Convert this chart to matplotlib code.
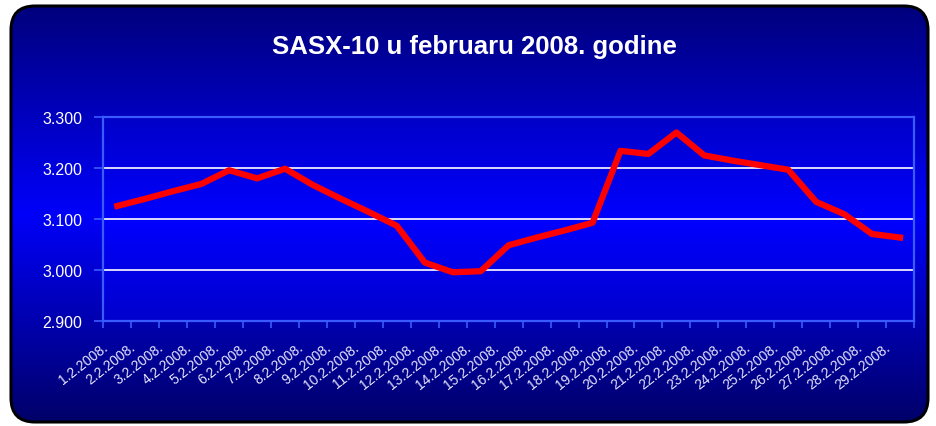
import numpy as np
import matplotlib.pyplot as plt
import matplotlib.transforms as mtransforms
from matplotlib.patches import FancyBboxPatch
from matplotlib.ticker import FuncFormatter

plt.rcParams['font.family'] = ['Liberation Sans', 'DejaVu Sans']

# Podaci
datumi = ['1.2.2008.', '2.2.2008.', '3.2.2008.', '4.2.2008.', '5.2.2008.',
          '6.2.2008.', '7.2.2008.', '8.2.2008.', '9.2.2008.', '10.2.2008.',
          '11.2.2008.', '12.2.2008.', '13.2.2008.', '14.2.2008.', '15.2.2008.',
          '16.2.2008.', '17.2.2008.', '18.2.2008.', '19.2.2008.', '20.2.2008.',
          '21.2.2008.', '22.2.2008.', '23.2.2008.', '24.2.2008.', '25.2.2008.',
          '26.2.2008.', '27.2.2008.', '28.2.2008.', '29.2.2008.']
sasx10 = [3125, 3139, 3154, 3168, 3195, 3179, 3198, 3166, 3139, 3113,
          3086, 3014, 2995, 2997, 3048, 3063, 3077, 3092, 3233, 3227,
          3269, 3224, 3214, 3205, 3196, 3133, 3109, 3070, 3063]
y_ticks = [2900, 3000, 3100, 3200, 3300]


def gradient(dark_top, light, dark_bottom, n=256):
    # vertikalni gradijent: tamno - svijetlo - tamno
    s = np.linspace(0, 1, n)
    b = np.where(s < 0.5,
                 dark_top + (light - dark_top) * (s / 0.5),
                 light + (dark_bottom - light) * ((s - 0.5) / 0.5))
    rgb = np.zeros((n, 1, 3))
    rgb[:, 0, 2] = b / 255.0
    return rgb


fig = plt.figure(figsize=(9.36, 4.27), dpi=100)

# Pozadina sa zaobljenim okvirom
bg = fig.add_axes([0, 0, 1, 1])
bg.axis('off')
bg.set_xlim(0, 936)
bg.set_ylim(427, 0)
box = FancyBboxPatch((11, 7), 917, 416, boxstyle="round,pad=0,rounding_size=24",
                     fc='none', ec='black', lw=2.2, zorder=3)
bg.add_patch(box)
im = bg.imshow(gradient(125, 250, 105), extent=(11, 928, 423, 7),
               aspect='auto', zorder=1)
im.set_clip_path(box)

fig.text(474 / 936, 1 - 47 / 427, 'SASX-10 u februaru 2008. godine',
         ha='center', va='center', fontsize=18.5, weight='bold', color='white')

# Grafikon
ax = fig.add_axes([0.1104, 0.2466, 0.8661, 0.4778])
ax.set_facecolor('none')
ax.imshow(gradient(200, 255, 205), extent=(0, 1, 0, 1), transform=ax.transAxes,
          aspect='auto', zorder=0)

ax.plot(range(len(sasx10)), sasx10, color='#ff0000', lw=4.5, zorder=3)

ax.set_xlim(-0.5, len(datumi) - 0.5)
ax.set_ylim(2900, 3300)
ax.set_yticks(y_ticks)
ax.yaxis.set_major_formatter(FuncFormatter(lambda v, p: f"{v:,.0f}".replace(',', '.')))
ax.set_axisbelow(True)
ax.grid(axis='y', color='white', lw=1.2)

edge = '#3a5cff'
for sp in ax.spines.values():
    sp.set_color(edge)
    sp.set_linewidth(1.6)

ax.tick_params(axis='y', colors=edge, length=6.5, width=1.2, pad=8.5,
               labelsize=11.5, labelcolor='white')

ax.set_xticks(np.arange(-0.5, len(datumi)), [''] * (len(datumi) + 1))
ax.tick_params(axis='x', which='major', colors=edge, length=5, width=1.2)
ax.set_xticks(range(len(datumi)), datumi, minor=True)
ax.tick_params(axis='x', which='minor', length=0, pad=20,
               labelsize=10, labelcolor='#e6e6ff')
offset = mtransforms.ScaledTranslation(-9 / 100, 0, fig.dpi_scale_trans)
for lbl in ax.get_xticklabels(minor=True):
    lbl.set_rotation(38)
    lbl.set_ha('right')
    lbl.set_va('baseline')
    lbl.set_rotation_mode('anchor')
    lbl.set_transform(lbl.get_transform() + offset)

fig.savefig('out.png', dpi=100, facecolor='white')
